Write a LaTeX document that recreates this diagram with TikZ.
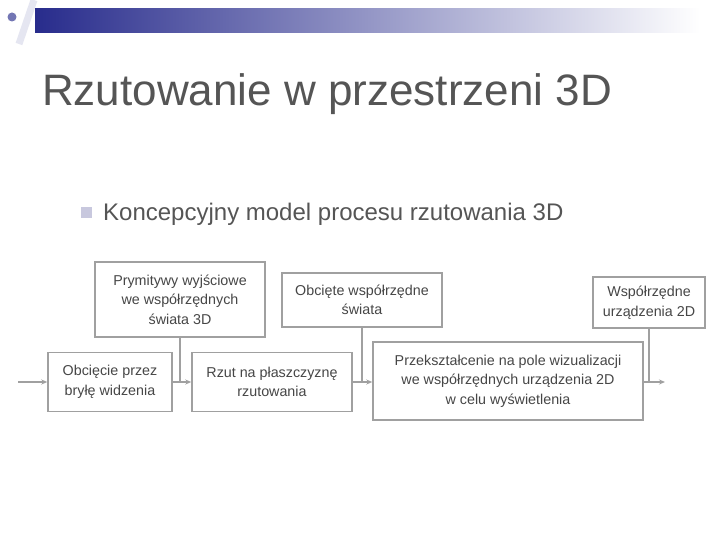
\documentclass[tikz,border=0pt]{standalone}
\usepackage{fontspec}
\setmainfont{Liberation Sans}
\usetikzlibrary{arrows.meta}
\definecolor{navy}{RGB}{40,44,140}
\definecolor{boxline}{RGB}{160,160,160}
\definecolor{txt}{RGB}{70,70,70}
\definecolor{titlec}{RGB}{85,85,85}
\definecolor{bulletc}{RGB}{200,200,222}
\begin{document}
\begin{tikzpicture}[x=1pt,y=-1pt,
  box/.style={draw=boxline, line width=1.5pt, align=center,
    font=\fontsize{14.3}{19.5}\selectfont, text=txt, inner sep=0pt},
  conn/.style={draw=boxline, line width=1.2pt},
  arr/.style={conn, -{Stealth[length=6pt,width=5pt]}}]
\useasboundingbox (0,0) rectangle (720,540);
\fill[white] (0,0) rectangle (720,540);
% header
\shade[left color=navy, middle color=navy!28!white, right color=white] (35,9) rectangle (700,33);
\fill[navy!65!white] (12,17) circle (4.5);
\draw[line width=7pt, color=navy!12!white] (34,0) -- (19,44);
% title and bullet
\node[anchor=base west, font=\fontsize{44}{52}\selectfont, text=titlec, inner sep=0pt] (title) at (42,106) {Rzutowanie w przestrzeni 3D};
\fill[bulletc] (81,207) rectangle (92,218);
\node[anchor=base west, font=\fontsize{24}{28}\selectfont, text=titlec, inner sep=0pt] (sub) at (103,221) {Koncepcyjny model procesu rzutowania 3D};
% boxes
\node[box, minimum width=170pt, minimum height=75pt] (A) at (180,299.5) {Prymitywy wyjściowe\\we współrzędnych\\świata 3D};
\node[box, minimum width=160pt, minimum height=54pt] (B) at (362,300) {Obcięte współrzędne\\świata};
\node[box, minimum width=112pt, minimum height=51pt] (C) at (649,302.5) {Współrzędne\\urządzenia 2D};
\node[box, minimum width=124pt, minimum height=59pt] (D) at (110,382) {Obcięcie przez\\bryłę widzenia};
\node[box, minimum width=160pt, minimum height=59pt] (E) at (272,382) {Rzut na płaszczyznę\\rzutowania};
\node[box, minimum width=270pt, minimum height=78pt] (F) at (508,381) {Przekształcenie na pole wizualizacji\\we współrzędnych urządzenia 2D\\w celu wyświetlenia};
% connectors
\coordinate (in) at (18,382);
\coordinate (out) at (665,382);
\draw[arr] (in) -- (D.west);
\draw[arr] (D.east) -- (E.west);
\draw[conn] (A.south) -- (A.south |- D.east);
\draw[arr] (E.east) -- (F.west |- E.east);
\draw[conn] (B.south) -- (B.south |- E.east);
\draw[arr] (F.east |- out) -- (out);
\draw[conn] (C.south) -- (C.south |- out);
\end{tikzpicture}
\end{document}
